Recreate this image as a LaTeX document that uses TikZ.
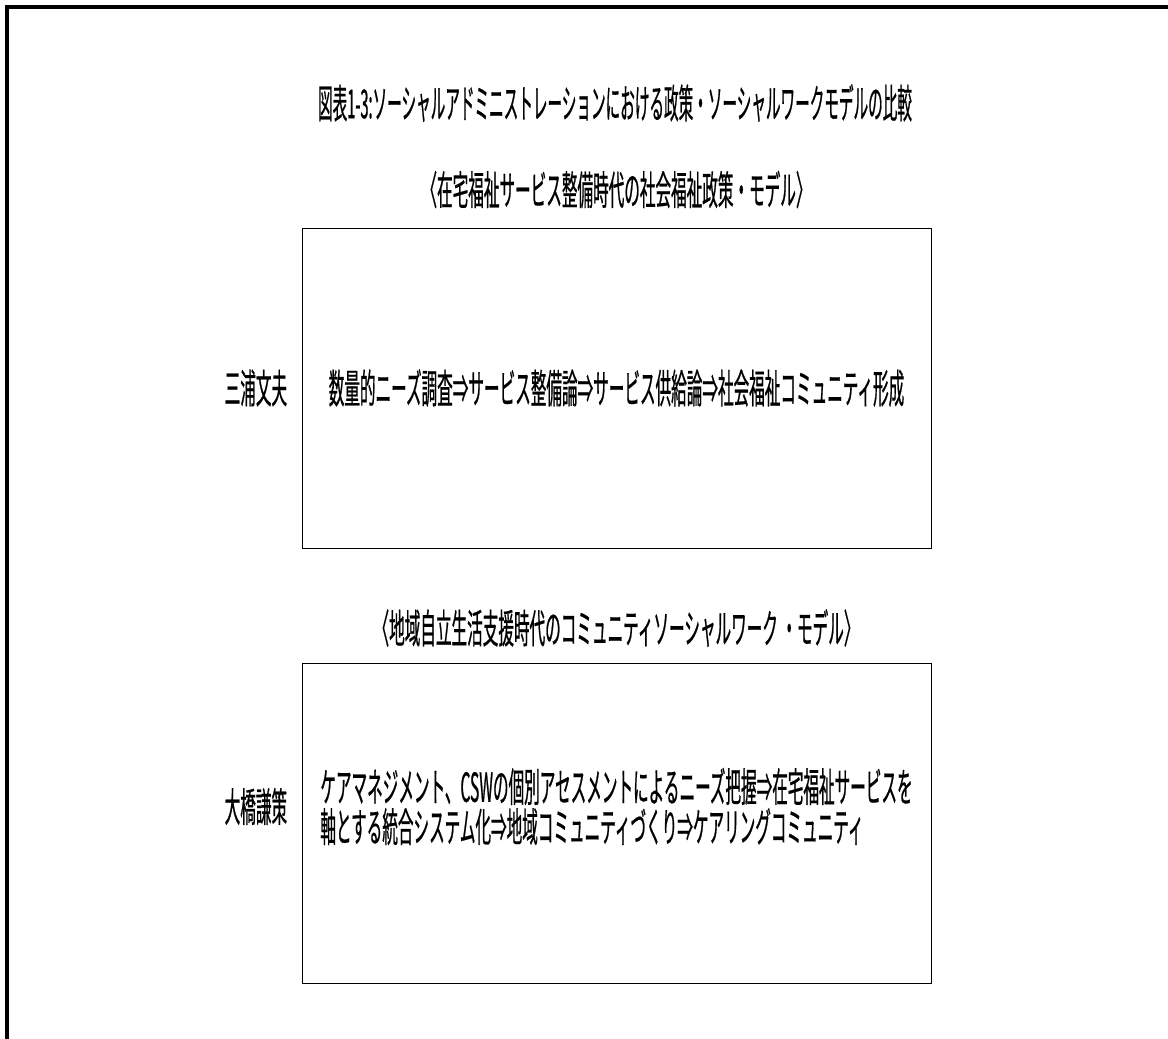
\documentclass[tikz,border=0pt]{standalone}
\usepackage{fontspec}
\setmainfont{Noto Sans CJK JP}[FakeStretch=0.39, FakeBold=0.5]
\newfontfamily\titlefont{Noto Sans CJK JP}[FakeStretch=0.365, FakeBold=0.5]
\usepackage{tikz}
\usetikzlibrary{positioning}

\begin{document}
\begin{tikzpicture}[
    x=0.5pt, y=-0.5pt,
    font=\fontsize{20pt}{20pt}\selectfont,
    panel/.style={draw, line width=0.5pt, minimum width=314.5pt, minimum height=160pt, inner sep=0pt},
    author/.style={inner sep=0pt},
    heading/.style={inner sep=0pt},
    frame/.style={line width=1.6pt},
    node distance=7pt
]
\useasboundingbox (0,0) rectangle (1168,1039);
\draw[frame] (7,1039) -- (7,7) -- (1168,7);

\node[heading, font=\titlefont\fontsize{20pt}{20pt}\selectfont] (title) at (615,103) {図表1-3:ソーシャルアドミニストレーションにおける政策・ソーシャルワークモデルの比較};

% upper model
\node[panel] (box1) at (616.5,388) {数量的ニーズ調査⇒サービス整備論⇒サービス供給論⇒社会福祉コミュニティ形成};
\node[heading, above=19pt of box1.north, anchor=center] (head1) {〈在宅福祉サービス整備時代の社会福祉政策・モデル〉};
\node[author, left=of box1] (miura) {三浦文夫};

% lower model, text sits a bit above the middle
\node[panel] (box2) at (616.5,823.5) {};
\node[align=left, inner sep=0pt, yshift=8.5pt] (text2) at (box2.center) {ケアマネジメント、CSWの個別アセスメントによるニーズ把握⇒在宅福祉サービスを\\軸とする統合システム化⇒地域コミュニティづくり⇒ケアリングコミュニティ};
\node[heading, above=17.5pt of box2.north, anchor=center] (head2) {〈地域自立生活支援時代のコミュニティソーシャルワーク ・モデル〉};
\node[author, left=of box2, yshift=8.5pt] (ohashi) {大橋謙策};
\end{tikzpicture}
\end{document}
